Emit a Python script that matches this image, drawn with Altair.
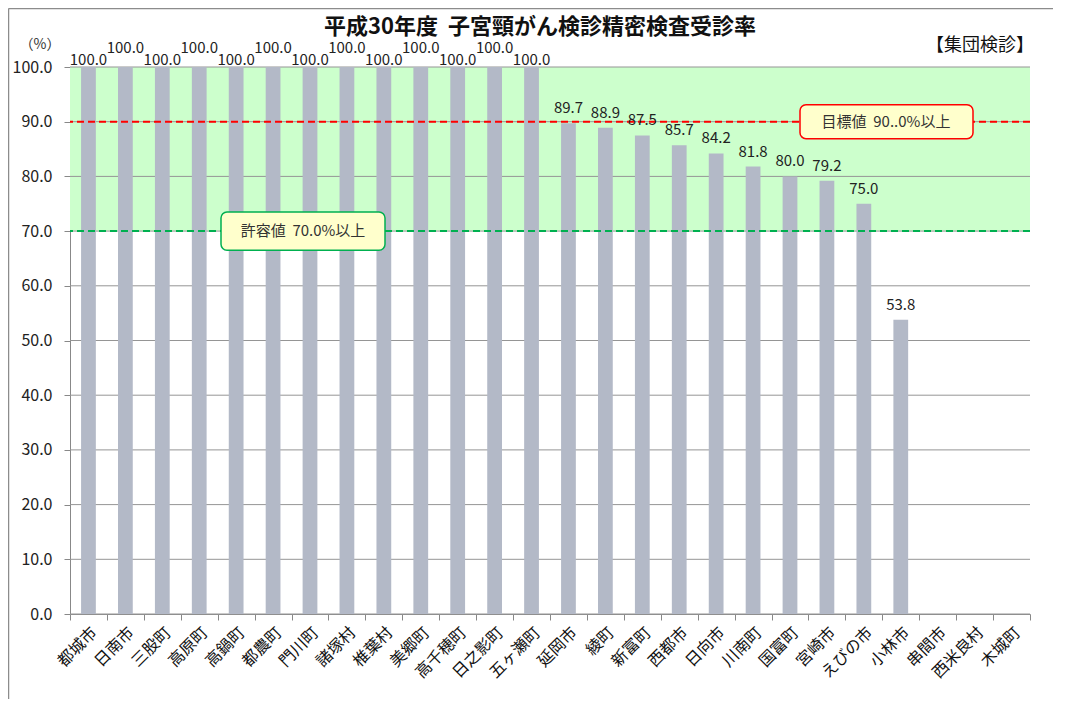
import altair as alt
import pandas as pd

categories = ["都城市", "日南市", "三股町", "高原町", "高鍋町", "都農町", "門川町",
              "諸塚村", "椎葉村", "美郷町", "高千穂町", "日之影町", "五ヶ瀬町", "延岡市",
              "綾町", "新富町", "西都市", "日向市", "川南町", "国富町", "宮崎市",
              "えびの市", "小林市", "串間市", "西米良村", "木城町"]
rates = [100.0, 100.0, 100.0, 100.0, 100.0, 100.0, 100.0, 100.0, 100.0, 100.0,
         100.0, 100.0, 100.0, 89.7, 88.9, 87.5, 85.7, 84.2, 81.8, 80.0,
         79.2, 75.0, 53.8, None, None, None]
y_ticks = [0, 10, 20, 30, 40, 50, 60, 70, 80, 90, 100]
target_rate = 90
allowable_rate = 70
title_text = "平成30年度\u00a0\u00a0子宮頸がん検診精密検査受診率"
unit_text = "（%）"
group_text = "【集団検診】"
target_text = "目標値\u00a0\u00a090..0%以上"
allow_text = "許容値\u00a0\u00a070.0%以上"

W, H = 960, 547
FONT = "Noto Sans CJK JP"

df = pd.DataFrame({"cat": categories, "rate": rates})
df["pos"] = ["high" if (r == 100 and i % 2 == 1) else ("low" if r == 100 else "mid")
             for i, r in enumerate(rates)]

y_scale = alt.Scale(domain=[0, 100], nice=False, zero=True)
y_axis = alt.Axis(values=y_ticks, format=".1f", grid=False, tickSize=6,
                  tickColor="#888888", domainColor="#888888", labelFontSize=16,
                  labelColor="#222222", labelPadding=12, title=None, labelFont=FONT)
x_enc = alt.X("cat:N", sort=categories,
              scale=alt.Scale(domain=categories, paddingInner=0, paddingOuter=0),
              axis=alt.Axis(labelAngle=-45, tickBand="extent", labelFontSize=16,
                            labelColor="#111111", tickSize=6, tickColor="#888888",
                            domainColor="#888888", title=None, labelFont=FONT,
                            labelPadding=4))


def one():
    return alt.Chart(pd.DataFrame({"a": [0]}))


band = one().mark_rect(color="#CCFFCC").encode(
    x=alt.value(0), x2=alt.value(W),
    y=alt.Y(datum=allowable_rate, scale=y_scale, axis=y_axis), y2=alt.datum(100))

grid = alt.Chart(pd.DataFrame({"t": y_ticks})).mark_rule(
    color="#959595", strokeWidth=1).encode(
    y=alt.Y("t:Q", scale=y_scale, axis=y_axis))

bars = alt.Chart(df).mark_bar(color="#B3B9C7", width=alt.RelativeBandSize(0.4)).encode(
    x=x_enc, y=alt.Y("rate:Q", scale=y_scale, axis=y_axis))

red_line = one().mark_rule(color="#FF0000", strokeDash=[7, 4], strokeWidth=2).encode(
    y=alt.Y(datum=target_rate, scale=y_scale, axis=y_axis))
green_line = one().mark_rule(color="#00B050", strokeDash=[7, 4], strokeWidth=2).encode(
    y=alt.Y(datum=allowable_rate, scale=y_scale, axis=y_axis))

red_box = one().mark_rect(fill="#FFFFCC", stroke="#FF0000", strokeWidth=1.5,
                          cornerRadius=6).encode(
    x=alt.value(730), x2=alt.value(903),
    y=alt.Y(datum=target_rate - 3.1, scale=y_scale, axis=y_axis),
    y2=alt.datum(target_rate + 3.1))
green_box = one().mark_rect(fill="#FFFFCC", stroke="#00B050", strokeWidth=1.5,
                            cornerRadius=6).encode(
    x=alt.value(151), x2=alt.value(315),
    y=alt.Y(datum=allowable_rate - 3.5, scale=y_scale, axis=y_axis),
    y2=alt.datum(allowable_rate + 3.5))

red_txt = one().mark_text(fontSize=15, color="#333333", font=FONT).encode(
    x=alt.value(816), y=alt.Y(datum=target_rate, scale=y_scale, axis=y_axis),
    text=alt.value(target_text))
green_txt = one().mark_text(fontSize=15, color="#333333", font=FONT).encode(
    x=alt.value(233), y=alt.Y(datum=allowable_rate, scale=y_scale, axis=y_axis),
    text=alt.value(allow_text))


def labels(group, dy):
    return alt.Chart(df).transform_filter(
        alt.datum.pos == group).mark_text(
        fontSize=15, color="#222222", dy=dy, font=FONT).encode(
        x=x_enc, y=alt.Y("rate:Q", scale=y_scale, axis=y_axis),
        text=alt.Text("rate:Q", format=".1f"))


lab_low = labels("low", -7)
lab_high = labels("high", -19)
lab_mid = labels("mid", -15)

title = one().mark_text(fontSize=22, fontWeight="bold", color="#111111", font=FONT).encode(
    x=alt.value(470), y=alt.value(-40), text=alt.value(title_text))
unit = one().mark_text(fontSize=14, color="#333333", font=FONT).encode(
    x=alt.value(-30), y=alt.value(-22), text=alt.value(unit_text))
group = one().mark_text(fontSize=18, color="#111111", align="right", font=FONT).encode(
    x=alt.value(964), y=alt.value(-21), text=alt.value(group_text))

frame_left = one().mark_rule(color="#8C8C8C", strokeWidth=1.5).encode(
    x=alt.value(-61.5), y=alt.value(-58.5), y2=alt.value(H + 85))
frame_top = one().mark_rule(color="#8C8C8C", strokeWidth=1.5).encode(
    x=alt.value(-61.5), x2=alt.value(W + 23), y=alt.value(-58.5))

chart = alt.layer(
    band, grid, bars, red_line, green_line, red_box, green_box, red_txt, green_txt,
    lab_low, lab_high, lab_mid, title, unit, group, frame_left, frame_top
).properties(
    width=W, height=H,
    padding={"left": 62, "top": 59, "right": 23, "bottom": 85},
    autosize=alt.AutoSizeParams(type="none"),
    background="white",
).configure_view(stroke=None)

chart.save("out.html", embed_options={"renderer": "svg", "actions": False})
